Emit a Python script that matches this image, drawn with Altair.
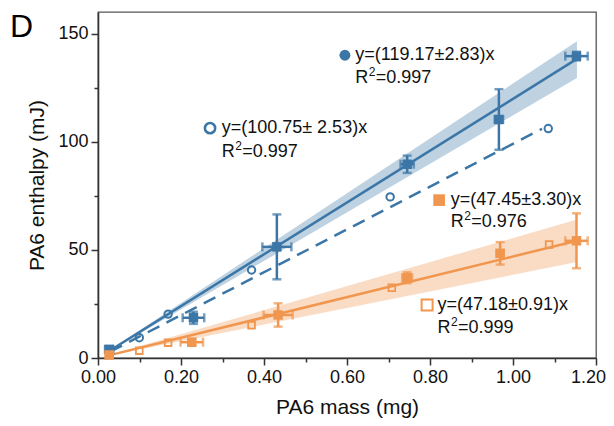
import altair as alt
import pandas as pd

BLUE = "#3b76a6"
ORANGE = "#f0964e"
FONT = "Liberation Sans"

# ---- data ----
# blue, filled (with error bars)
bf_x = [0.027, 0.230, 0.431, 0.745, 0.966, 1.153]
bf_y = [4.0, 18.6, 51.4, 89.6, 110.3, 139.6]
bf_xerr = [0.010, 0.026, 0.035, 0.016, 0.010, 0.027]
bf_yerr = [1.2, 2.8, 15.0, 4.0, 14.0, 2.0]

# blue, open circles
bo_x = [0.0995, 0.169, 0.370, 0.704, 1.085]
bo_y = [9.4, 20.3, 40.7, 74.5, 106.1]

# orange, filled (with error bars)
of_x = [0.027, 0.226, 0.434, 0.745, 0.969, 1.153]
of_y = [1.4, 7.3, 19.9, 37.1, 48.4, 54.2]
of_xerr = [0.008, 0.027, 0.035, 0.012, 0.008, 0.027]
of_yerr = [0.8, 1.5, 5.4, 2.5, 5.2, 12.7]

# orange, open squares
oo_x = [0.0995, 0.169, 0.370, 0.708, 1.087]
oo_y = [3.4, 7.1, 15.2, 32.5, 52.5]

# fitted lines and confidence bands (end points)
bfit_x = [0.024, 1.154]
bfit_y = [2.9, 138.3]
bband_lo = [2.7, 129.5]
bband_hi = [3.1, 146.5]

bdash_x = [0.030, 1.070]
bdash_y = [3.0, 106.0]

ofit_x = [0.024, 1.154]
ofit_y = [1.1, 54.2]
oband_lo = [1.0, 44.4]
oband_hi = [1.3, 64.0]

x_ticks = [0.0, 0.1, 0.2, 0.3, 0.4, 0.5, 0.6, 0.7, 0.8, 0.9, 1.0, 1.1, 1.2]
y_ticks = [0, 25, 50, 75, 100, 125, 150]

# equation annotations
eq_text = ["y=(119.17±2.83)x", "y=(100.75± 2.53)x", "y=(47.45±3.30)x", "y=(47.18±0.91)x"]
eq_x = [0.620, 0.298, 0.850, 0.818]
eq_y = [140.0, 106.3, 73.0, 24.5]
r2_text = ["=0.997", "=0.997", "=0.976", "=0.999"]
r2_y = [129.4, 95.3, 63.0, 13.9]

key_x = [0.595, 0.270, 0.822, 0.793]
key_y = [140.0, 106.3, 73.0, 24.5]

# ---- tables ----
bf = pd.DataFrame({"x": bf_x, "y": bf_y})
bf["xlo"] = [a - b for a, b in zip(bf_x, bf_xerr)]
bf["xhi"] = [a + b for a, b in zip(bf_x, bf_xerr)]
bf["ylo"] = [a - b for a, b in zip(bf_y, bf_yerr)]
bf["yhi"] = [a + b for a, b in zip(bf_y, bf_yerr)]

of = pd.DataFrame({"x": of_x, "y": of_y})
of["xlo"] = [a - b for a, b in zip(of_x, of_xerr)]
of["xhi"] = [a + b for a, b in zip(of_x, of_xerr)]
of["ylo"] = [a - b for a, b in zip(of_y, of_yerr)]
of["yhi"] = [a + b for a, b in zip(of_y, of_yerr)]

bo = pd.DataFrame({"x": bo_x, "y": bo_y})
oo = pd.DataFrame({"x": oo_x, "y": oo_y})
bfit = pd.DataFrame({"x": bfit_x, "y": bfit_y, "lo": bband_lo, "hi": bband_hi})
ofit = pd.DataFrame({"x": ofit_x, "y": ofit_y, "lo": oband_lo, "hi": oband_hi})
bdash = pd.DataFrame({"x": bdash_x, "y": bdash_y})
eq = pd.DataFrame({"x": eq_x, "y": eq_y, "t": eq_text})
r2 = pd.DataFrame({"x": eq_x, "y": r2_y, "t": r2_text, "r": ["R"] * 4, "s": ["2"] * 4})
keys = [pd.DataFrame({"x": [key_x[i]], "y": [key_y[i]]}) for i in range(4)]

xscale = alt.Scale(domain=[0, 1.2], nice=False, zero=False, padding=0)
yscale = alt.Scale(domain=[0, 160], nice=False, zero=False, padding=0)

x_axis = alt.Axis(
    values=x_ticks,
    labelExpr="round(datum.value*10) % 2 == 0 ? format(datum.value, '.2f') : ''",
    tickSize={"condition": {"test": "round(datum.value*10) % 2 == 0", "value": 7}, "value": 4},
    labelOffset={"condition": {"test": "datum.value > 1.15", "value": -8}, "value": 0},
    title="PA6 mass (mg)",
    grid=False, labelFlush=False,
)
y_axis = alt.Axis(
    values=y_ticks,
    labelExpr="datum.value % 50 == 0 ? datum.label : ''",
    tickSize={"condition": {"test": "datum.value % 50 == 0", "value": 7}, "value": 4},
    title="PA6 enthalpy (mJ)",
    grid=False, labelFlush=False,
)


def X(f):
    return alt.X(f, type="quantitative", scale=xscale, axis=x_axis)


def Y(f):
    return alt.Y(f, type="quantitative", scale=yscale, axis=y_axis)


layers = []
# bands
layers.append(alt.Chart(bfit).mark_area(color=BLUE, opacity=0.33).encode(
    x=X("x"), y=Y("lo"), y2="hi"))
layers.append(alt.Chart(ofit).mark_area(color=ORANGE, opacity=0.33).encode(
    x=X("x"), y=Y("lo"), y2="hi"))
# lines
layers.append(alt.Chart(bdash).mark_line(color=BLUE, strokeWidth=2.5, strokeDash=[13, 8]).encode(
    x=X("x"), y=Y("y")))
layers.append(alt.Chart(bfit).mark_line(color=BLUE, strokeWidth=2.5).encode(
    x=X("x"), y=Y("y")))
layers.append(alt.Chart(ofit).mark_line(color=ORANGE, strokeWidth=2.5).encode(
    x=X("x"), y=Y("y")))
# open markers
layers.append(alt.Chart(bo).mark_point(shape="circle", filled=False, color=BLUE, strokeWidth=2,
                                       size=55, opacity=1).encode(x=X("x"), y=Y("y")))
layers.append(alt.Chart(oo).mark_point(shape="square", filled=False, color=ORANGE, strokeWidth=1.8,
                                       size=45, opacity=1).encode(x=X("x"), y=Y("y")))
# error bars
for df, col in ((bf, BLUE), (of, ORANGE)):
    layers.append(alt.Chart(df).mark_errorbar(ticks=True, size=9, thickness=2.5, color=col).encode(
        x=X("x"), y=Y("ylo"), y2="yhi"))
    layers.append(alt.Chart(df).mark_errorbar(ticks=True, size=9, thickness=2.5, color=col).encode(
        y=Y("y"), x=X("xlo"), x2="xhi"))
    layers.append(alt.Chart(df).mark_point(shape="square", filled=True, color=col, size=90,
                                           opacity=1).encode(x=X("x"), y=Y("y")))
# key markers
layers.append(alt.Chart(keys[0]).mark_point(shape="circle", filled=True, color=BLUE, size=120,
                                            opacity=1).encode(x=X("x"), y=Y("y")))
layers.append(alt.Chart(keys[1]).mark_point(shape="circle", filled=False, color=BLUE, size=105,
                                            strokeWidth=2.5, opacity=1).encode(x=X("x"), y=Y("y")))
layers.append(alt.Chart(keys[2]).mark_point(shape="square", filled=True, color=ORANGE, size=136,
                                            opacity=1).encode(x=X("x"), y=Y("y")))
layers.append(alt.Chart(keys[3]).mark_point(shape="square", filled=False, color=ORANGE, size=120,
                                            strokeWidth=2, opacity=1).encode(x=X("x"), y=Y("y")))
# annotation text
txt = dict(align="left", baseline="middle", font=FONT, color="#111")
layers.append(alt.Chart(eq).mark_text(fontSize=18, **txt).encode(x=X("x"), y=Y("y"), text="t:N"))
layers.append(alt.Chart(r2).mark_text(fontSize=18, **txt).encode(x=X("x"), y=Y("y"), text="r:N"))
layers.append(alt.Chart(r2).mark_text(fontSize=12, dx=13.5, dy=-6, **txt).encode(
    x=X("x"), y=Y("y"), text="s:N"))
layers.append(alt.Chart(r2).mark_text(fontSize=18, dx=20.5, **txt).encode(
    x=X("x"), y=Y("y"), text="t:N"))
# panel letter
layers.append(alt.Chart(pd.DataFrame({"t": ["D"]})).mark_text(
    align="left", baseline="alphabetic", fontSize=32, font=FONT, color="#000").encode(
    x=alt.value(-88), y=alt.value(25), text="t:N"))

chart = alt.layer(*layers).properties(
    width=498, height=346,
    autosize=alt.AutoSizeParams(type="none"),
    padding={"left": 90, "top": 4, "right": 10, "bottom": 66},
).configure_view(
    stroke="#555", strokeWidth=1.3
).configure_axis(
    labelFont=FONT, titleFont=FONT, labelFontSize=18, titleFontSize=21,
    labelColor="#111", titleColor="#111", titleFontWeight="normal",
    domainColor="#333", domainWidth=1.6, tickColor="#333", tickWidth=1.5,
    labelPadding=3,
).configure_axisX(titlePadding=10).configure_axisY(titlePadding=10)

chart.save("out.html", embed_options={"renderer": "svg", "actions": False})
